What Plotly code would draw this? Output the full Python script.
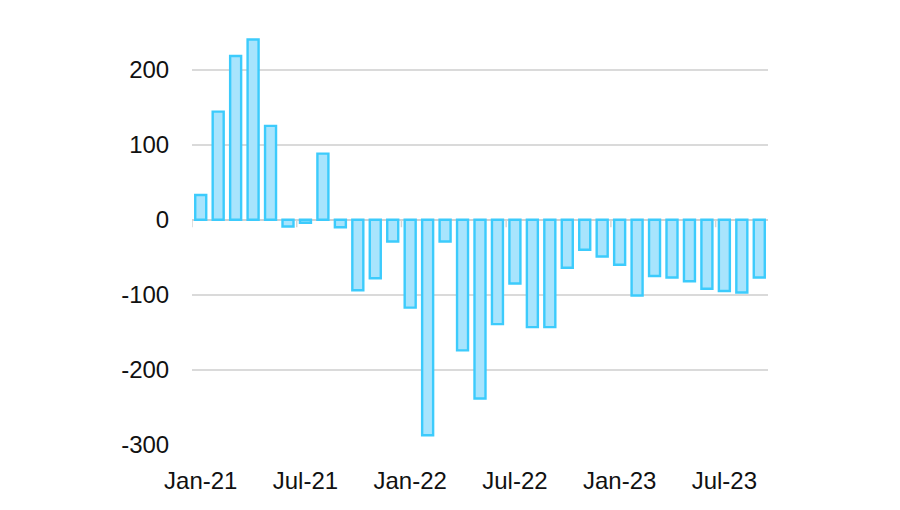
import plotly.graph_objects as go

months = ["Jan-21","Feb-21","Mar-21","Apr-21","May-21","Jun-21","Jul-21","Aug-21","Sep-21","Oct-21","Nov-21","Dec-21",
          "Jan-22","Feb-22","Mar-22","Apr-22","May-22","Jun-22","Jul-22","Aug-22","Sep-22","Oct-22","Nov-22","Dec-22",
          "Jan-23","Feb-23","Mar-23","Apr-23","May-23","Jun-23","Jul-23","Aug-23","Sep-23"]
values = [33, 144, 218, 240, 125, -9, -4, 88, -10, -94, -78, -29,
          -117, -287, -29, -174, -238, -139, -85, -143, -143, -64,
          -40, -49, -60, -101, -75, -77, -82, -92, -95, -97, -77]
tick_labels = ["Jan-21", "Jul-21", "Jan-22", "Jul-22", "Jan-23", "Jul-23"]
y_ticks = [-300, -200, -100, 0, 100, 200]
y_tick_text = ["-300", "-200", "-100", "0", "100", "200"]

idx = list(range(len(months)))
tick_pos = [months.index(t) for t in tick_labels]

fig = go.Figure()
fig.add_trace(go.Bar(
    x=idx, y=values,
    marker=dict(color="#A8E4FD", line=dict(color="#3CCBFC", width=2.4)),
    width=0.63,
    hovertext=months,
))

# category-boundary tick marks hanging from the zero line
bx, by = [], []
for p in tick_pos:
    b = p - 0.5
    bx += [b, b, None]
    by += [0, -10, None]
fig.add_trace(go.Scatter(x=bx, y=by, mode="lines",
                         line=dict(color="#d4d4d4", width=1.5),
                         hoverinfo="skip", showlegend=False))

fig.update_layout(
    width=900, height=510,
    margin=dict(l=184, r=140, t=24, b=73),
    plot_bgcolor="white", paper_bgcolor="white",
    showlegend=False,
    font=dict(family="Liberation Sans, Arial, sans-serif", size=24, color="#111111"),
)
fig.update_xaxes(
    range=[-0.5, len(months) - 0.5],
    tickmode="array", tickvals=tick_pos, ticktext=tick_labels,
    showgrid=False, zeroline=False, showline=False,
    ticks="outside", ticklen=14, tickcolor="rgba(0,0,0,0)",
    tickfont=dict(size=24),
)
fig.update_yaxes(
    range=[-300, 250],
    tickmode="array", tickvals=y_ticks, ticktext=y_tick_text,
    showgrid=True, gridcolor="#dadada", gridwidth=2,
    zeroline=True, zerolinecolor="#d0d0d0", zerolinewidth=2,
    showline=False,
    ticks="outside", ticklen=17, tickcolor="rgba(0,0,0,0)",
    tickfont=dict(size=24),
)
fig.write_html("out.html")
